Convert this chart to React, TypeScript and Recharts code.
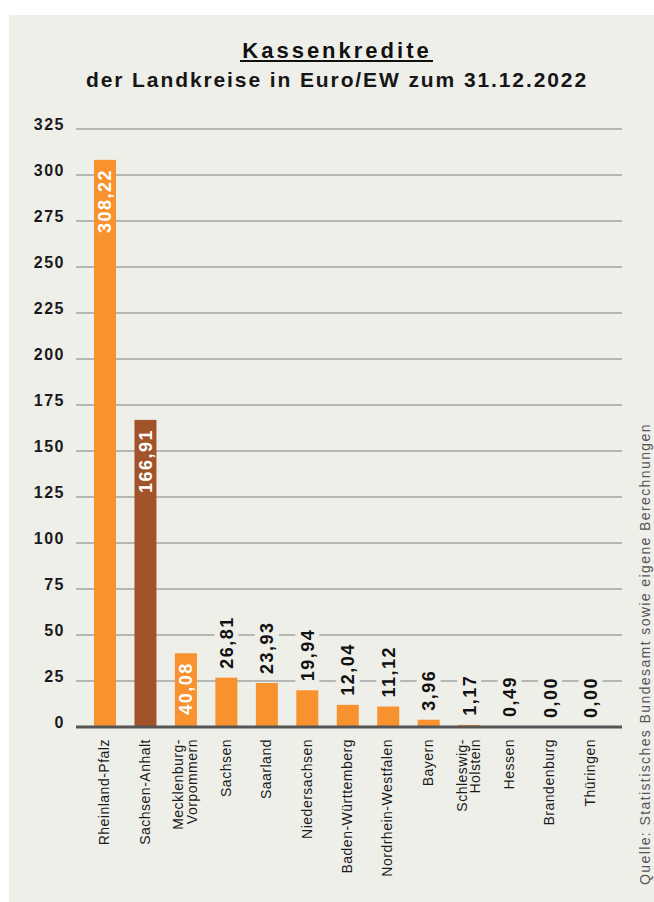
// @ts-nocheck
import { BarChart, Bar, XAxis, YAxis, CartesianGrid } from 'recharts'

const categories = [
  'Rheinland-Pfalz',
  'Sachsen-Anhalt',
  'Mecklenburg-\nVorpommern',
  'Sachsen',
  'Saarland',
  'Niedersachsen',
  'Baden-Württemberg',
  'Nordrhein-Westfalen',
  'Bayern',
  'Schleswig-\nHolstein',
  'Hessen',
  'Brandenburg',
  'Thüringen',
]
const values = [308.22, 166.91, 40.08, 26.81, 23.93, 19.94, 12.04, 11.12, 3.96, 1.17, 0.49, 0, 0]
const yTicks = [0, 25, 50, 75, 100, 125, 150, 175, 200, 225, 250, 275, 300, 325]
const highlight = 'Sachsen-Anhalt'

const BG = '#efefea'
const ORANGE = '#f7922f'
const BROWN = '#a2532a'
const FONT = '"Liberation Sans", Arial, Helvetica, sans-serif'

const data = categories.map((name, i) => ({ name, value: values[i] }))

function fmt(v: number) {
  return v.toFixed(2).replace('.', ',')
}

function textLen(s: string) {
  // rough width of bold 18px text with 1.5px letter spacing
  let w = 0
  for (const ch of s) w += (ch === ',' ? 5 : 10) + 1.5
  return w
}

function ValueLabel({ cx, top, value }) {
  const txt = fmt(value)
  const bx = cx + 6.5
  if (value > 30) {
    const ty = top + 9
    return (
      <text
        x={bx}
        y={ty}
        transform={`rotate(-90, ${bx}, ${ty})`}
        textAnchor="end"
        fill="#fff"
        fontSize={18}
        fontWeight="bold"
        letterSpacing={1.5}
        fontFamily={FONT}
      >
        {txt}
      </text>
    )
  }
  const base = top - 9
  const len = textLen(txt)
  return (
    <g>
      <rect x={cx - 12} y={base - len - 4} width={24} height={len + 10} fill={BG} />
      <text
        x={bx}
        y={base}
        transform={`rotate(-90, ${bx}, ${base})`}
        textAnchor="start"
        fill="#111"
        fontSize={18}
        fontWeight="bold"
        letterSpacing={1.5}
        fontFamily={FONT}
      >
        {txt}
      </text>
    </g>
  )
}

function BarShape(props) {
  const { x, y, width, height, payload } = props
  const h = Math.max(0, height || 0)
  return (
    <g>
      {h > 0 && <rect x={x} y={y} width={width} height={h} fill={payload.name === highlight ? BROWN : ORANGE} />}
      <ValueLabel cx={x + width / 2} top={y} value={payload.value} />
    </g>
  )
}

function CatTick(props) {
  const { x, y, payload } = props
  const lines = String(payload.value).split('\n')
  const n = lines.length
  const ty = y + 12
  return (
    <g>
      {lines.map((ln, i) => {
        const bx = x + 4 + (i - (n - 1) / 2) * 13.5
        return (
          <text
            key={i}
            x={bx}
            y={ty}
            transform={`rotate(-90, ${bx}, ${ty})`}
            textAnchor="end"
            fill="#1a1a1a"
            fontSize={14}
            letterSpacing={0.5}
            fontFamily={FONT}
          >
            {ln}
          </text>
        )
      })}
    </g>
  )
}

function YTick(props) {
  const { x, y, payload } = props
  return (
    <text x={x} y={y + 1} textAnchor="end" fill="#1a1a1a" fontSize={16} fontWeight="bold" letterSpacing={1.5} fontFamily={FONT}>
      {payload.value}
    </text>
  )
}

export default function App() {
  return (
    <div style={{ position: 'absolute', left: 0, top: 0, width: 654, height: 902, background: '#fff', overflow: 'hidden' }}>
      <div style={{ position: 'absolute', left: 9, top: 15, width: 645, height: 887, background: BG }} />
      <div style={{ position: 'absolute', left: 0, top: 0 }}>
        <BarChart width={654} height={902} data={data} margin={{ top: 129, right: 32, bottom: 15, left: 16 }}>
          <CartesianGrid vertical={false} stroke="#a3a3a3" strokeWidth={1.5} />
          <XAxis
            dataKey="name"
            height={160}
            interval={0}
            padding={{ left: 9, right: 11 }}
            tickLine={false}
            tickSize={0}
            tickMargin={0}
            axisLine={{ stroke: '#555', strokeWidth: 3 }}
            tick={<CatTick />}
          />
          <YAxis
            width={60}
            domain={[0, 325]}
            ticks={yTicks}
            interval={0}
            axisLine={false}
            tickLine={false}
            tickSize={0}
            tickMargin={11}
            tick={<YTick />}
          />
          <Bar dataKey="value" barSize={22} isAnimationActive={false} shape={<BarShape />} />
        </BarChart>
      </div>
      <svg width={654} height={902} style={{ position: 'absolute', left: 0, top: 0, pointerEvents: 'none' }}>
        <text x={337} y={58} textAnchor="middle" fontSize={22} fontWeight="bold" letterSpacing={3} fill="#111" fontFamily={FONT}>
          Kassenkredite
        </text>
        <rect x={240} y={60} width={193} height={2} fill="#111" />
        <text x={337} y={87} textAnchor="middle" fontSize={21} fontWeight="bold" letterSpacing={1.9} fill="#161616" fontFamily={FONT}>
          der Landkreise in Euro/EW zum 31.12.2022
        </text>
        <text
          x={650}
          y={885}
          transform="rotate(-90, 650, 885)"
          textAnchor="start"
          fontSize={14}
          letterSpacing={1.4}
          fill="#555"
          fontFamily={FONT}
        >
          Quelle: Statistisches Bundesamt sowie eigene Berechnungen
        </text>
      </svg>
    </div>
  )
}
